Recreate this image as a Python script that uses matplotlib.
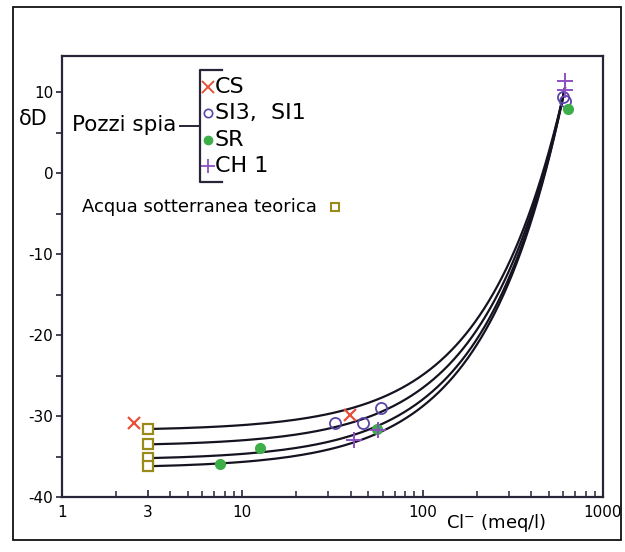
import numpy as np
import matplotlib
matplotlib.use("Agg")
import matplotlib.pyplot as plt
from matplotlib.patches import Rectangle
from matplotlib.ticker import FixedLocator, NullFormatter

plt.rcParams['font.family'] = ['DejaVu Sans']
plt.rcParams['mathtext.default'] = 'regular'
plt.rcParams['axes.unicode_minus'] = False

# punti misurati (Cl- meq/l, dD)
cs_cl = [2.5, 39.6]
cs_d = [-30.9, -29.9]
si_cl = [32.7, 46.8, 58.7, 600, 615]
si_d = [-30.9, -30.8, -29.0, 9.4, 8.9]
sr_cl = [7.5, 12.6, 56.2, 639]
sr_d = [-35.9, -33.9, -31.6, 7.9]
ch_cl = [41.7, 56.6, 612, 612]
ch_d = [-33.0, -31.7, 11.4, 10.3]

# acqua sotterranea teorica e mare (estremi delle curve di mescolamento)
gw_cl = [3, 3, 3, 3]
gw_d = [-31.6, -33.5, -35.2, -36.2]
sea_cl = 615
sea_d = 10.5

xticks = [1, 3, 10, 100, 1000]
xticklabels = ['1', '3', '10', '100', '1000']
yticks = [-40, -30, -20, -10, 0, 10]

c_cs = '#e8503a'
c_si = '#5b45a8'
c_sr = '#3dae48'
c_ch = '#8e4fc4'
c_gw = '#9a8a1a'
dark = '#2a2438'

fig = plt.figure(figsize=(6.25, 5.52), dpi=100)
fig.patches.append(Rectangle((12.7 / 625, 1 - 540 / 552), 608 / 625, 533.3 / 552,
                             transform=fig.transFigure, fill=False,
                             edgecolor='#111111', lw=1.3))
ax = fig.add_axes([61.7 / 625, 1 - 497 / 552, 541.3 / 625, 441 / 552])
ax.set_xscale('log')
ax.set_xlim(1, 1000)
ax.set_ylim(-40, 14.5)

# curve di mescolamento acqua sotterranea - acqua di mare
f = np.linspace(0, 1, 400)
for c0, d0 in zip(gw_cl, gw_d):
    ax.plot(c0 + f * (sea_cl - c0), d0 + f * (sea_d - d0), color='#151320', lw=1.6, zorder=2)

ax.plot(gw_cl, gw_d, 's', mfc='white', mec=c_gw, ms=7, mew=1.6, zorder=4)
ax.plot(cs_cl, cs_d, 'x', color=c_cs, ms=9, mew=1.6, zorder=3)
ax.plot(si_cl, si_d, 'o', mfc='none', mec=c_si, ms=8, mew=1.3, zorder=3)
ax.plot(sr_cl, sr_d, 'o', color=c_sr, ms=7, zorder=3)
ax.plot(ch_cl, ch_d, '+', color=c_ch, ms=11, mew=1.4, zorder=3)

for s in ax.spines.values():
    s.set_color(dark)
    s.set_linewidth(1.6)

ax.xaxis.set_major_locator(FixedLocator(xticks))
ax.set_xticklabels(xticklabels)
minors = [m * 10 ** e for e in range(3) for m in range(2, 10) if m * 10 ** e not in xticks]
ax.xaxis.set_minor_locator(FixedLocator(minors))
ax.xaxis.set_minor_formatter(NullFormatter())
ax.set_yticks(yticks)
ax.yaxis.set_minor_locator(FixedLocator(np.arange(-35, 15, 10)))
ax.tick_params(axis='x', which='major', direction='in', length=5, width=1.2,
               color=dark, labelsize=11, pad=6)
ax.tick_params(axis='x', which='minor', direction='in', length=4, width=1.1, color=dark)
ax.tick_params(axis='y', which='both', direction='out', length=4, width=1.2,
               color=dark, labelsize=11, pad=2)

fig.text(33 / 625, 1 - 119 / 552, 'δD', ha='center', va='center', fontsize=15)
fig.text(496 / 625, 1 - 523 / 552, r'Cl$^{-}$ (meq/l)', ha='center', va='center', fontsize=13)

# legenda a parentesi
def fx(px):
    return (px - 61.7) / 541.3

def fy(py):
    return (497 - py) / 441

T = ax.transAxes
ax.text(fx(71.7), fy(125), 'Pozzi spia', transform=T, ha='left', va='center', fontsize=15.5)
ax.plot([fx(180), fx(200)], [fy(126), fy(126)], color=dark, lw=1.4, transform=T, clip_on=False)
ax.plot([fx(221.7), fx(200), fx(200), fx(221.7)], [fy(70), fy(70), fy(181.7), fy(181.7)],
        color=dark, lw=1.6, transform=T, clip_on=False)

legend_rows = [
    ('CS', 'x', dict(color=c_cs, ms=8, mew=1.4), 86.7),
    ('SI3,  SI1', 'o', dict(mfc='none', mec=c_si, ms=6, mew=1.2), 113.3),
    ('SR', 'o', dict(color=c_sr, ms=6), 140),
    ('CH 1', '+', dict(color=c_ch, ms=10, mew=1.3), 166),
]
for label, mk, kw, py in legend_rows:
    ax.plot([fx(208)], [fy(py)], mk, transform=T, clip_on=False, **kw)
    ax.text(fx(215), fy(py), label, transform=T, ha='left', va='center', fontsize=16)

ax.text(fx(81.7), fy(206.7), 'Acqua sotterranea teorica', transform=T,
        ha='left', va='center', fontsize=13)
ax.plot([fx(335)], [fy(206.7)], 's', mfc='white', mec=c_gw, ms=6, mew=1.5, transform=T)

fig.savefig('out.png', dpi=100)
